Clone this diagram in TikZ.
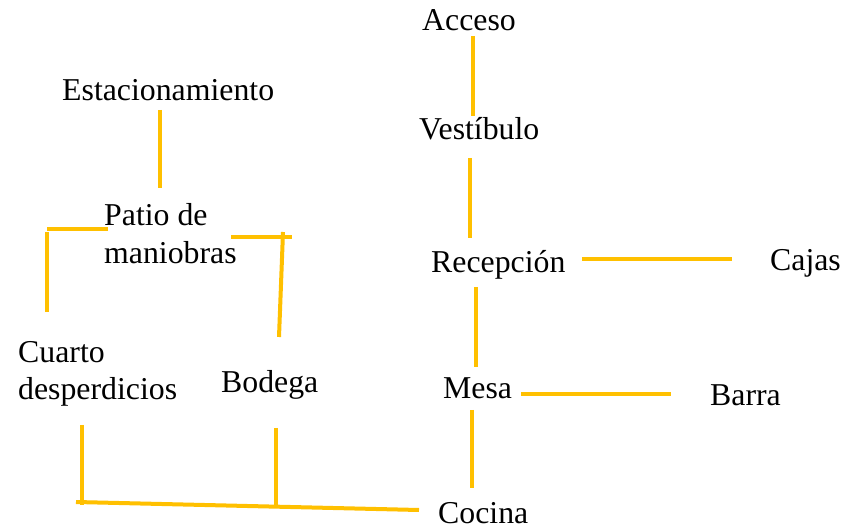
\documentclass[tikz,border=0pt]{standalone}
\usepackage{fontspec}
\setmainfont{Liberation Serif}
\definecolor{linkyellow}{HTML}{FFC000}
\begin{document}
\begin{tikzpicture}[x=1pt,y=-1pt,
  lbl/.style={anchor=base west,inner sep=0pt,align=left,font=\fontsize{31.8}{38}\selectfont},
  link/.style={draw=linkyellow,line width=4pt}]
\useasboundingbox[fill=white] (0,0) rectangle (852,529);
% nodes (multi-line nodes: base = last line's baseline)
\node[lbl] (acceso) at (422,31) {Acceso};
\node[lbl] (vestibulo) at (419,140) {Vestíbulo};
\node[lbl] (recepcion) at (431,273) {Recepción};
\node[lbl] (cajas) at (770,271) {Cajas};
\node[lbl] (mesa) at (443,399) {Mesa};
\node[lbl] (barra) at (710,406) {Barra};
\node[lbl] (cocina) at (438,523) {Cocina};
\node[lbl] (estac) at (62,101) {Estacionamiento};
\node[lbl] (patio) at (104,264) {Patio de\\maniobras};
\node[lbl] (cuarto) at (18,400) {Cuarto\\desperdicios};
\node[lbl] (bodega) at (221,392) {Bodega};
% connector end points
\coordinate (a1) at (473,36);  \coordinate (a2) at (473,116);
\coordinate (v1) at (470,158); \coordinate (v2) at (470,238);
\coordinate (r1) at (476,287); \coordinate (r2) at (476,367);
\coordinate (c1) at (582,259); \coordinate (c2) at (732,259);
\coordinate (b1) at (521,394); \coordinate (b2) at (671,394);
\coordinate (m1) at (472,410); \coordinate (m2) at (472,488);
\coordinate (e1) at (160,110); \coordinate (e2) at (160,188);
\coordinate (pl1) at (108,229); \coordinate (pl2) at (47,229);
\coordinate (pl3) at (47,232); \coordinate (pl4) at (47,312);
\coordinate (pr1) at (231,237); \coordinate (pr2) at (292,237);
\coordinate (pr3) at (283,232); \coordinate (pr4) at (279,337);
\coordinate (q1) at (82,425); \coordinate (q2) at (82,505);
\coordinate (g1) at (276,428); \coordinate (g2) at (276,507);
\coordinate (k1) at (76,502); \coordinate (k2) at (419,510);
% connectors
\draw[link] (a1) -- (a2);
\draw[link] (v1) -- (v2);
\draw[link] (r1) -- (r2);
\draw[link] (c1) -- (c2);
\draw[link] (b1) -- (b2);
\draw[link] (m1) -- (m2);
\draw[link] (e1) -- (e2);
\draw[link] (pl1) -- (pl2);
\draw[link] (pl3) -- (pl4);
\draw[link] (pr1) -- (pr2);
\draw[link] (pr3) -- (pr4);
\draw[link] (q1) -- (q2);
\draw[link] (g1) -- (g2);
\draw[link] (k1) -- (k2);
\end{tikzpicture}
\end{document}
